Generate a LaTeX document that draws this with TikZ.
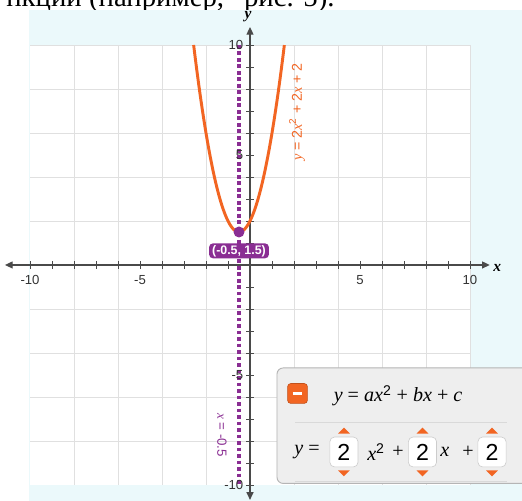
\documentclass[tikz,border=0pt]{standalone}
\usepackage{fontspec}
\setmainfont{Liberation Serif}
\newfontfamily\lsans{Liberation Sans}
\usetikzlibrary{arrows.meta, positioning}

\definecolor{bgcyan}{HTML}{EBF9FB}
\definecolor{gridgray}{HTML}{E0E0E0}
\definecolor{axisgray}{HTML}{4A4A4A}
\definecolor{curveorange}{HTML}{F26522}
\definecolor{vertexpurple}{HTML}{8A2E93}
\definecolor{panelgray}{HTML}{EEEEEE}
\definecolor{panelline}{HTML}{B5B5B5}

\begin{document}
\begin{tikzpicture}[
  x=0.5cm, y=0.5cm,
  gridline/.style={draw=gridgray, line width=0.5pt},
  axis/.style={draw=axisgray, line width=0.8pt, {Triangle[length=5pt,width=4.5pt]}-{Triangle[length=5pt,width=4.5pt]}},
  tickmark/.style={draw=axisgray, line width=0.6pt},
  ticklabel/.style={font=\lsans\fontsize{8.5}{10}\selectfont, text=black!80, inner sep=1pt},
  axislabel/.style={font=\itshape\bfseries\fontsize{10}{12}\selectfont, inner sep=0pt},
  curve/.style={draw=curveorange, line width=1.9pt},
  symline/.style={draw=vertexpurple, line width=2.2pt, dash pattern=on 2.4pt off 1.8pt},
  vertexdot/.style={circle, fill=vertexpurple, minimum size=0.25cm, inner sep=0pt},
  vertexlabel/.style={rectangle, rounded corners=2.5pt, fill=vertexpurple, text=white, font=\lsans\bfseries\fontsize{8}{9}\selectfont, minimum height=0.34cm, inner xsep=2pt, inner ysep=0pt},
  curvelabel/.style={text=curveorange, font=\lsans\fontsize{9.2}{11}\selectfont, inner sep=0pt},
  linelabel/.style={text=vertexpurple, font=\lsans\fontsize{8.6}{10}\selectfont, inner sep=0pt},
  panel/.style={draw=panelline, fill=panelgray, line width=0.6pt, rounded corners=4pt},
  sepline/.style={draw=black!15, line width=0.6pt},
  minusbtn/.style={rectangle, rounded corners=2pt, fill=curveorange, draw=curveorange!80!black, minimum size=0.45cm, inner sep=0pt},
  eqtext/.style={font=\fontsize{13}{15}\selectfont, inner sep=0pt},
  numbox/.style={rectangle, rounded corners=3pt, draw=black!20, fill=white, minimum width=0.64cm, minimum height=0.68cm, inner sep=0pt, font=\lsans\fontsize{15}{17}\selectfont},
  toptext/.style={font=\fontsize{18.6}{22}\selectfont, inner sep=0pt, anchor=base west}
]
\useasboundingbox (-11.364,-10.727) rectangle (12.364,12.045);

% caption line above the screenshot
\node[toptext] (caption) at (-11.09,11.74) {нкции (например, “рис. 5).};

% background and grid
\fill[bgcyan] (-10.045,-10.727) rectangle (12.364,11.59);
\fill[white] (-10,-10) rectangle (10,10);
\draw[gridline] (-10,-10) grid (10,10);

% axes
\draw[axis] (-11.14,0) -- (10.9,0);
\draw[axis] (0,-10.68) -- (0,10.82);
\foreach \i in {-10,...,-1,1,2,...,10} {
  \draw[tickmark] (\i,-0.18) -- (\i,0.18);
  \draw[tickmark] (-0.18,\i) -- (0.18,\i);
}
\node[axislabel, anchor=west] (xlab) at (11.05,-0.12) {x};
\node[axislabel] (ylab) at (-0.09,11.3) {y};

% parabola and axis of symmetry
\draw[curve] plot[domain=-2.5616:1.5616, samples=80] (\x, {2*\x*\x+2*\x+2});
\draw[symline] (-0.5,10) -- (-0.5,-10);

% tick labels
\foreach \i in {-10,-5,5,10} {
  \node[ticklabel, anchor=north] (xt\i) at (\i,-0.38) {\i};
  \node[ticklabel, anchor=east] (yt\i) at (-0.22,\i) {\i};
}

% labels on the graph
\node[curvelabel, rotate=90] (clabel) at (2.14,6.95) {{\rmfamily\itshape y} = 2{\rmfamily\itshape x}\textsuperscript{2} + 2{\rmfamily\itshape x} + 2};
\node[linelabel, rotate=-90] (llabel) at (-1.27,-7.73) {{\rmfamily\itshape x} = -0.5};

% vertex
\node[vertexdot] (vtx) at (-0.5,1.5) {};
\node[vertexlabel, below=3.4pt of vtx] (vlabel) {(-0.5, 1.5)};

% equation panel
\draw[panel] (1.227,-9.93) rectangle (13,-4.68);
\node[minusbtn] (minus) at (2.16,-5.84) {};
\draw[white, line width=2pt] ([xshift=-3.2pt]minus.center) -- ([xshift=3.2pt]minus.center);
\node[eqtext] (general) at (6.73,-5.95) {\textit{y} = \textit{ax}\textsuperscript{\lsans 2} + \textit{bx} + \textit{c}};
\draw[sepline] (2.05,-7.14) -- (11.68,-7.14);

\node[eqtext] (lhs) at (2.59,-8.5) {\textit{y} =};
\node[numbox] (b1) at (4.27,-8.5) {2};
\node[eqtext] (t1) at (5.73,-8.5) {\textit{x}\textsuperscript{\lsans 2}};
\node[eqtext] (p1) at (6.73,-8.5) {+};
\node[numbox] (b2) at (7.84,-8.5) {2};
\node[eqtext] (t2) at (8.86,-8.5) {\textit{x}};
\node[eqtext] (p2) at (9.91,-8.5) {+};
\node[numbox] (b3) at (11.0,-8.5) {2};
\foreach \b in {b1,b2,b3} {
  \fill[curveorange] ([yshift=2pt]\b.north) +(-0.27,0) -- +(0.27,0) -- +(0,0.27) -- cycle;
  \fill[curveorange] ([yshift=-2pt]\b.south) +(-0.27,0) -- +(0.27,0) -- +(0,-0.27) -- cycle;
}
\draw[sepline] (2.05,-9.86) -- (11.68,-9.86);
\end{tikzpicture}
\end{document}
